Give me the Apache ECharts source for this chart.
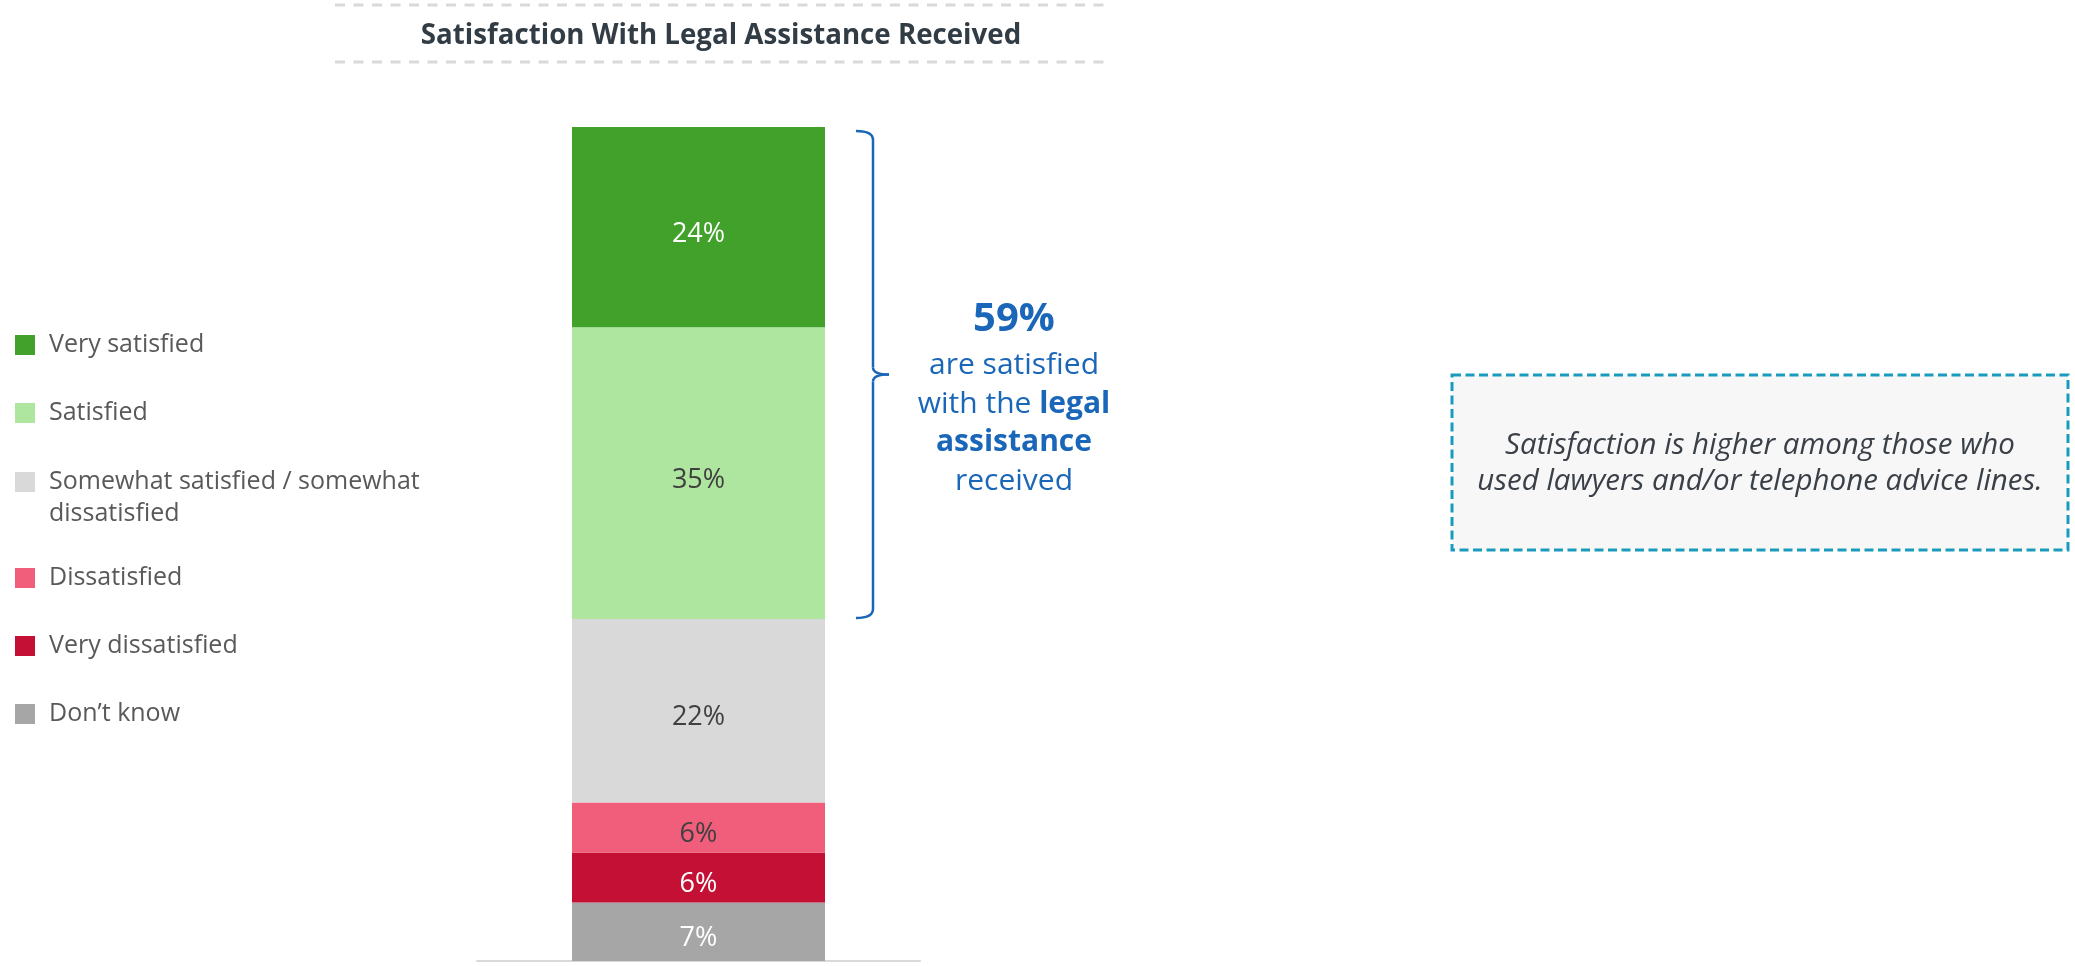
<!DOCTYPE html>
<html>
<head>
<meta charset="utf-8">
<title>Satisfaction With Legal Assistance Received</title>
<script src="https://cdn.jsdelivr.net/npm/echarts@6/dist/echarts.min.js"></script>
<style>
  html, body { margin: 0; padding: 0; background: #ffffff; }
  #chart { width: 2075px; height: 966px; }
</style>
</head>
<body>
<div id="chart"></div>
<script>
// Survey responses, listed top of the stack first
const responses = [
  'Very satisfied',
  'Satisfied',
  'Somewhat satisfied / somewhat dissatisfied',
  'Dissatisfied',
  'Very dissatisfied',
  'Don\u2019t know'
];
const shares = [24, 35, 22, 6, 6, 7];
const categories = ['Legal assistance received'];
const calloutLines = [
  'Satisfaction is higher among those who',
  'used lawyers and/or telephone advice lines.'
];
const titleText = 'Satisfaction With Legal Assistance Received';

// Colours per response
const fills = ['#41A12B', '#AEE59F', '#D9D9D9', '#F05E7C', '#C41035', '#A6A6A6'];
const labelInk = ['#ffffff', '#404040', '#404040', '#404040', '#ffffff', '#ffffff'];

const FONT = '"Open Sans", "Noto Sans", sans-serif';
const BAR_WIDTH = 253;

const chart = echarts.init(document.getElementById('chart'), null, { renderer: 'canvas' });

// Stack from the bottom up: last response first
const series = responses.map((name, i) => ({
  name: name,
  type: 'bar',
  stack: 'total',
  barWidth: BAR_WIDTH,
  data: [shares[i]],
  itemStyle: { color: fills[i] },
  label: {
    show: true,
    position: 'inside',
    offset: [0, 7],
    formatter: '{c}%',
    color: labelInk[i],
    fontFamily: FONT,
    fontSize: 27
  },
  emphasis: { disabled: true }
})).reverse();

const legendBase = {
  orient: 'vertical',
  left: 15,
  padding: 0,
  itemWidth: 20,
  itemHeight: 20,
  icon: 'rect',
  itemGap: 36,
  selectedMode: false,
  textStyle: {
    fontFamily: FONT,
    fontSize: 25,
    color: '#595959',
    lineHeight: 32,
    padding: [0, 0, 0, 9]
  }
};

chart.setOption({
  animation: false,
  title: {
    text: titleText,
    left: 721,
    top: 21,
    padding: 0,
    textAlign: 'center',
    textStyle: {
      fontFamily: FONT,
      fontWeight: 'bold',
      fontSize: 27.7,
      lineHeight: 30,
      color: '#323C45'
    }
  },
  legend: [
    Object.assign({}, legendBase, { top: 329, data: responses.slice(0, 2) }),
    Object.assign({}, legendBase, {
      top: 434,
      data: responses.slice(2, 3),
      // wrapped label whose first line sits level with the swatch
      formatter: n => '\n' + n.replace(' / somewhat ', ' / somewhat\n')
    }),
    Object.assign({}, legendBase, { top: 562, data: responses.slice(3) })
  ],
  grid: { left: 477, right: 1155, top: 127, bottom: 5 },
  xAxis: {
    type: 'category',
    data: categories,
    axisLine: { show: true, lineStyle: { color: '#D9D9D9', width: 2 } },
    axisTick: { show: false },
    axisLabel: { show: false }
  },
  yAxis: {
    type: 'value',
    min: 0,
    max: 100,
    show: false,
    splitLine: { show: false }
  },
  series: series
});

// Annotation: brace over the two "satisfied" segments and its summary text
const satisfiedTotal = shares[0] + shares[1];
const stackTop = shares.reduce((a, b) => a + b, 0);
const topPt = chart.convertToPixel({ gridIndex: 0 }, [0, stackTop]);
const lowPt = chart.convertToPixel({ gridIndex: 0 }, [0, stackTop - satisfiedTotal]);
const barRight = topPt[0] + BAR_WIDTH / 2;

const yTop = topPt[1] + 4;
const yBot = lowPt[1] - 1;
const yMid = (yTop + yBot) / 2;
const xTip = barRight + 31;
const xSpine = barRight + 48;
const xPoint = barRight + 64;

const BLUE = '#1A66B8';
const braceStyle = { fill: 'none', stroke: BLUE, lineWidth: 2.5 };
const curve = (x1, y1, cx, cy, x2, y2) => ({
  type: 'bezierCurve', silent: true,
  shape: { x1: x1, y1: y1, cpx1: cx, cpy1: cy, x2: x2, y2: y2 },
  style: braceStyle
});
const segment = (x1, y1, x2, y2) => ({
  type: 'line', silent: true,
  shape: { x1: x1, y1: y1, x2: x2, y2: y2 },
  style: braceStyle
});

chart.setOption({
  graphic: [
    // dashed rules above and below the title
    {
      type: 'line', silent: true,
      shape: { x1: 335, y1: 5, x2: 1108, y2: 5 },
      style: { stroke: '#D9D9D9', lineWidth: 3, lineDash: [10, 8.5] }
    },
    {
      type: 'line', silent: true,
      shape: { x1: 335, y1: 62, x2: 1108, y2: 62 },
      style: { stroke: '#D9D9D9', lineWidth: 3, lineDash: [10, 8.5] }
    },
    {
      type: 'group',
      children: [
        curve(xTip, yTop, xSpine, yTop, xSpine, yTop + 9),
        segment(xSpine, yTop + 9, xSpine, yMid - 7),
        curve(xSpine, yMid - 7, xSpine, yMid, xPoint, yMid),
        curve(xPoint, yMid, xSpine, yMid, xSpine, yMid + 7),
        segment(xSpine, yMid + 7, xSpine, yBot - 9),
        curve(xSpine, yBot - 9, xSpine, yBot, xTip, yBot)
      ]
    },
    {
      type: 'text', silent: true,
      x: barRight + 189,
      y: yMid + 22,
      style: {
        text: '{big|' + satisfiedTotal + '%}\n{n|are satisfied}\n{n|with the }{b|legal}\n{b|assistance}\n{n|received}',
        align: 'center',
        verticalAlign: 'middle',
        rich: {
          big: { fontFamily: FONT, fontSize: 40, fontWeight: 'bold', lineHeight: 54, fill: BLUE, align: 'center' },
          n: { fontFamily: FONT, fontSize: 30, lineHeight: 38.5, fill: BLUE, align: 'center' },
          b: { fontFamily: FONT, fontSize: 30, fontWeight: 'bold', lineHeight: 38.5, fill: BLUE, align: 'center' }
        }
      }
    },
    // side note box
    {
      type: 'rect', silent: true,
      shape: { x: 1452, y: 375, width: 616, height: 175 },
      style: { fill: '#F7F7F7', stroke: '#1A9BBE', lineWidth: 3, lineDash: [9, 4.5] }
    },
    {
      type: 'text', silent: true,
      x: 1760,
      y: 464,
      style: {
        text: calloutLines.join('\n'),
        align: 'center',
        verticalAlign: 'middle',
        fontFamily: FONT,
        fontStyle: 'italic',
        fontSize: 29.5,
        lineHeight: 36,
        fill: '#3A4048'
      }
    }
  ]
});
</script>
</body>
</html>
